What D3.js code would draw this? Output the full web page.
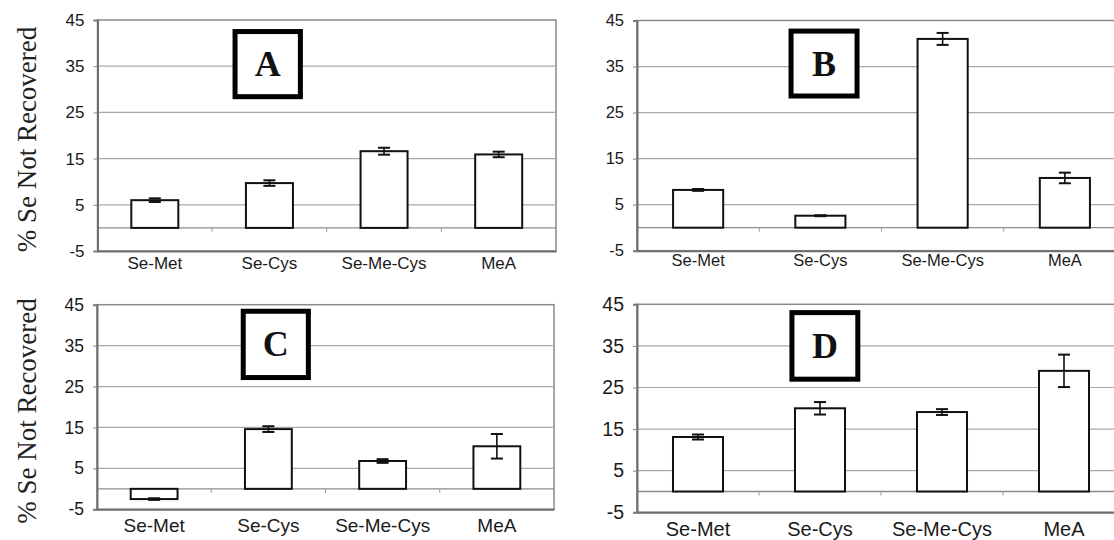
<!DOCTYPE html>
<html>
<head>
<meta charset="utf-8">
<script src="https://cdn.jsdelivr.net/npm/d3@7"></script>
<style>
  body { margin: 0; background: #fff; }
  svg { display: block; }
</style>
</head>
<body>
<svg width="1114" height="540"></svg>
<script>
// data
var categories = ["Se-Met", "Se-Cys", "Se-Me-Cys", "MeA"];
var yTicks = [-5, 5, 15, 25, 35, 45];
var panelLetters = ["A", "B", "C", "D"];

var valuesA = [6.0, 9.7, 16.6, 15.9];
var errorsA = [0.4, 0.6, 0.75, 0.6];
var valuesB = [8.2, 2.6, 41.0, 10.8];
var errorsB = [0.2, 0.1, 1.3, 1.15];
var valuesC = [-2.5, 14.6, 6.8, 10.4];
var errorsC = [0.2, 0.7, 0.45, 3.0];
var valuesD = [13.1, 20.0, 19.1, 29.0];
var errorsD = [0.6, 1.5, 0.7, 3.9];

var yTitle = "% Se Not Recovered";

var svg = d3.select("svg");

// panel frames (pixels) + per-panel text sizes
var panels = [
  { values: valuesA, errors: errorsA, left: 97.5, right: 556, top: 20, bottom: 251,
    tickFont: 17, catFont: 17, catPad: 6, title: true,
    box: { x0: 1.2, x1: 1.77, y0: 42.5, y1: 28.4 } },
  { values: valuesB, errors: errorsB, left: 637, right: 1126, top: 20.5, bottom: 250.7,
    tickFont: 16.5, catFont: 16.5, catPad: 4, title: false,
    box: { x0: 1.26, x1: 1.8, y0: 42.7, y1: 28.6 } },
  { values: valuesC, errors: errorsC, left: 97, right: 554, top: 304.7, bottom: 509.3,
    tickFont: 17.5, catFont: 19, catPad: 9, title: true,
    box: { x0: 1.28, x1: 1.85, y0: 43.4, y1: 27.2 } },
  { values: valuesD, errors: errorsD, left: 637, right: 1125, top: 304.3, bottom: 512.3,
    tickFont: 19.5, catFont: 20, catPad: 10, title: false,
    box: { x0: 1.27, x1: 1.81, y0: 43, y1: 27 } }
];

panels.forEach(function(p, i) {
  var x = d3.scaleBand()
    .domain(categories)
    .range([p.left, p.right])
    .paddingInner(0.59)
    .paddingOuter(0.295);
  var y = d3.scaleLinear().domain([-5, 45]).range([p.bottom, p.top]);
  var step = x.step();

  var g = svg.append("g").attr("class", "panel");

  // plot area + gridlines
  g.append("rect")
    .attr("x", p.left).attr("y", p.top)
    .attr("width", p.right - p.left).attr("height", p.bottom - p.top)
    .attr("fill", "#fff").attr("stroke", "#8a8a8a").attr("stroke-width", 1.5);

  g.selectAll(".grid")
    .data(yTicks.filter(function(t) { return t > -5 && t < 45; }))
    .enter().append("line")
    .attr("class", "grid")
    .attr("x1", p.left).attr("x2", p.right)
    .attr("y1", function(d) { return y(d); }).attr("y2", function(d) { return y(d); })
    .attr("stroke", "#a8a8a8").attr("stroke-width", 1.2);

  // zero line
  g.append("line")
    .attr("x1", p.left).attr("x2", p.right)
    .attr("y1", y(0)).attr("y2", y(0))
    .attr("stroke", "#8c8c8c").attr("stroke-width", 1.3);

  // little category divider ticks on the zero line
  g.selectAll(".divider")
    .data(categories.slice(1))
    .enter().append("line")
    .attr("x1", function(d) { return x(d) - (step - x.bandwidth()) / 2; })
    .attr("x2", function(d) { return x(d) - (step - x.bandwidth()) / 2; })
    .attr("y1", y(0)).attr("y2", y(0) + 4)
    .attr("stroke", "#999").attr("stroke-width", 1);

  // y axis (plain hyphen minus, like the original)
  var yAxis = g.append("g")
    .attr("transform", "translate(" + p.left + ",0)")
    .call(d3.axisLeft(y).tickValues(yTicks).tickFormat(function(d) { return String(d); })
      .tickSize(4).tickPadding(9));
  yAxis.select(".domain").attr("stroke", "#6e6e6e").attr("stroke-width", 2);
  yAxis.selectAll(".tick line").attr("stroke", "#888");
  yAxis.selectAll("text")
    .attr("font-family", "Liberation Sans, Arial, sans-serif")
    .attr("font-size", p.tickFont)
    .attr("fill", "#1a1a1a");

  // x axis (category labels)
  var xAxis = g.append("g")
    .attr("transform", "translate(0," + p.bottom + ")")
    .call(d3.axisBottom(x).tickSize(0).tickPadding(p.catPad));
  xAxis.select(".domain").attr("stroke", "#6e6e6e").attr("stroke-width", 2);
  xAxis.selectAll("text")
    .attr("font-family", "Liberation Sans, Arial, sans-serif")
    .attr("font-size", p.catFont)
    .attr("fill", "#1a1a1a");

  // bars
  g.selectAll(".bar")
    .data(p.values)
    .enter().append("rect")
    .attr("class", "bar")
    .attr("x", function(d, j) { return x(categories[j]); })
    .attr("width", x.bandwidth())
    .attr("y", function(d) { return y(Math.max(0, d)); })
    .attr("height", function(d) { return Math.abs(y(d) - y(0)); })
    .attr("fill", "#fff")
    .attr("stroke", "#111")
    .attr("stroke-width", 2);

  // error bars
  var eb = g.selectAll(".err")
    .data(p.values)
    .enter().append("g")
    .attr("class", "err")
    .attr("transform", function(d, j) {
      return "translate(" + (x(categories[j]) + x.bandwidth() / 2) + ",0)";
    });
  eb.append("line")
    .attr("y1", function(d, j) { return y(d + p.errors[j]); })
    .attr("y2", function(d, j) { return y(d - p.errors[j]); })
    .attr("stroke", "#111").attr("stroke-width", 1.6);
  eb.append("line")
    .attr("x1", -6).attr("x2", 6)
    .attr("y1", function(d, j) { return y(d + p.errors[j]); })
    .attr("y2", function(d, j) { return y(d + p.errors[j]); })
    .attr("stroke", "#111").attr("stroke-width", 2);
  eb.append("line")
    .attr("x1", -6).attr("x2", 6)
    .attr("y1", function(d, j) { return y(d - p.errors[j]); })
    .attr("y2", function(d, j) { return y(d - p.errors[j]); })
    .attr("stroke", "#111").attr("stroke-width", 2);

  // panel letter box
  var bx0 = p.left + p.box.x0 * step, bx1 = p.left + p.box.x1 * step;
  var by0 = y(p.box.y0), by1 = y(p.box.y1);
  g.append("rect")
    .attr("x", bx0).attr("y", by0)
    .attr("width", bx1 - bx0).attr("height", by1 - by0)
    .attr("fill", "#fff").attr("stroke", "#000").attr("stroke-width", 5);
  g.append("text")
    .attr("x", (bx0 + bx1) / 2)
    .attr("y", (by0 + by1) / 2 + 12)
    .attr("text-anchor", "middle")
    .attr("font-family", "Liberation Serif, Times New Roman, serif")
    .attr("font-weight", "bold")
    .attr("font-size", 36)
    .attr("fill", "#111")
    .text(panelLetters[i]);

  // y title on left panels
  if (p.title) {
    g.append("text")
      .attr("transform", "translate(36," + ((p.top + p.bottom) / 2 + 4) + ") rotate(-90)")
      .attr("text-anchor", "middle")
      .attr("font-family", "Liberation Serif, Times New Roman, serif")
      .attr("font-size", 27)
      .attr("fill", "#222")
      .text(yTitle);
  }
});
</script>
</body>
</html>
